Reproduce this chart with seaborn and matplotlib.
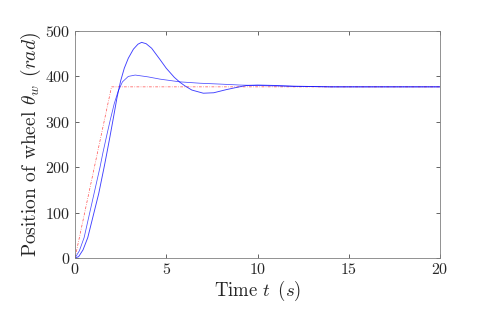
import matplotlib
matplotlib.use("Agg")
import matplotlib.pyplot as plt
import pandas as pd
import seaborn as sns

# reference (ramp then hold)
ref_t = [0.0, 2.0, 20.0]
ref_theta = [0.0, 377.0, 377.0]

# response with large overshoot
big_t = [0.0, 0.2, 0.44, 0.7, 1.04, 1.3, 1.61, 1.74, 1.9, 2.1, 2.3, 2.5, 2.7,
         2.92, 3.2, 3.45, 3.65, 3.9, 4.2, 4.66, 5.0, 5.44, 5.75, 6.03, 6.4,
         7.03, 7.6, 8.3, 9.0, 9.4, 10.0, 11.0, 12.0, 14.0, 20.0]
big_theta = [0, 3, 18, 45, 100, 142, 203, 230, 264, 308, 353, 390, 418,
             440, 460, 471, 475, 472, 462, 437, 418, 398, 387, 379, 370,
             363, 364, 371, 377, 380, 381, 380, 378.5, 377, 377]

# response with small overshoot
small_t = [0.0, 0.24, 0.5, 0.78, 1.1, 1.37, 1.53, 1.75, 1.92, 2.15, 2.37, 2.6,
           2.92, 3.3, 4.0, 4.66, 5.75, 6.85, 8.0, 9.04, 10.0, 11.0, 12.0,
           14.0, 20.0]
small_theta = [0, 16, 45, 95, 152, 200, 232, 272, 302, 340, 368, 388,
               400, 403, 399, 394, 388, 385, 383, 381, 380, 379, 378,
               377, 377]

sns.set_theme(style="ticks")
plt.rcParams["font.family"] = "serif"
plt.rcParams["font.serif"] = ["cmr10"]
plt.rcParams["mathtext.fontset"] = "cm"
plt.rcParams["axes.formatter.use_mathtext"] = True

fig = plt.figure(figsize=(4.98, 3.12), dpi=100)
ax = fig.add_axes([0.1506, 0.173, 0.733, 0.7276])

sns.lineplot(data=pd.DataFrame({"t": ref_t, "v": ref_theta}), x="t", y="v",
             color="red", lw=0.5, alpha=0.7, ax=ax)
ax.lines[-1].set_dashes([4, 2, 1, 2])
sns.lineplot(data=pd.DataFrame({"t": big_t, "v": big_theta}), x="t", y="v",
             color="blue", lw=0.65, alpha=0.75, ax=ax)
sns.lineplot(data=pd.DataFrame({"t": small_t, "v": small_theta}), x="t", y="v",
             color="blue", lw=0.55, alpha=0.7, ax=ax)

ax.set_xlim(0, 20)
ax.set_ylim(0, 500)
ax.set_xticks([0, 5, 10, 15, 20])
ax.set_yticks([0, 100, 200, 300, 400, 500])
ax.tick_params(direction="in", top=True, right=True, length=3, width=0.5,
               colors="#262626", labelsize=11.5, labelcolor="#262626", pad=3)
for s in ax.spines.values():
    s.set_color("#808080")
    s.set_linewidth(0.6)
ax.set_xlabel(r"Time $t\ \,(s)$", fontsize=13.5, color="#262626", labelpad=1)
ax.set_ylabel(r"Position of wheel $\theta_w\ \,(rad)$", fontsize=14,
              color="#262626", labelpad=2)

fig.savefig("out.png", dpi=100)
